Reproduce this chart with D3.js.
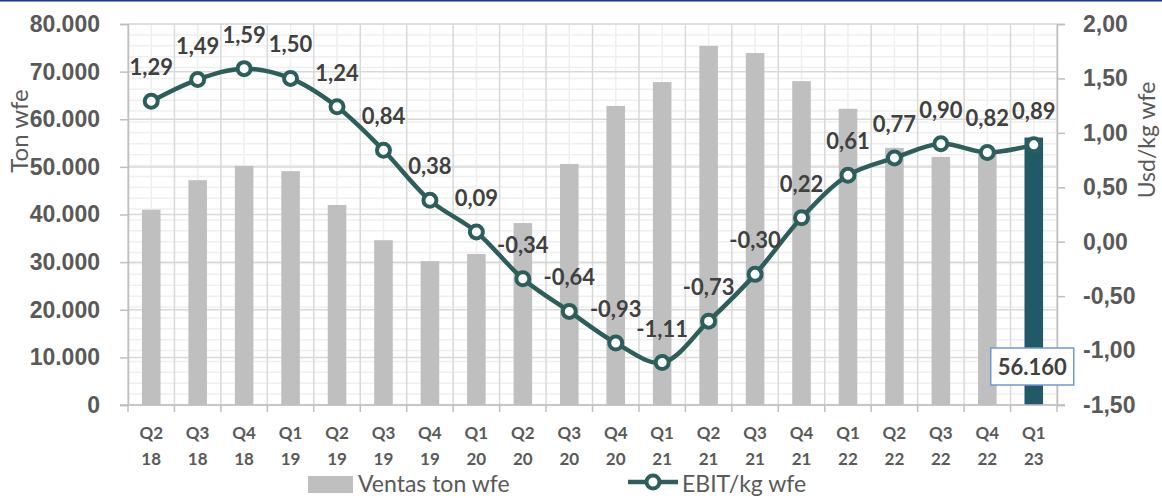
<!DOCTYPE html>
<html>
<head>
<meta charset="utf-8">
<script src="https://cdn.jsdelivr.net/npm/d3@7"></script>
<style>
  body { margin: 0; background: #fff; }
  svg { display: block; font-family: Lato, "Open Sans", sans-serif; }
</style>
</head>
<body>
<div id="chart"></div>
<script>
// quarterly sales (ton wfe) and EBIT per kg
const quarters = ["Q2", "Q3", "Q4", "Q1", "Q2", "Q3", "Q4", "Q1", "Q2", "Q3",
                  "Q4", "Q1", "Q2", "Q3", "Q4", "Q1", "Q2", "Q3", "Q4", "Q1"];
const years = ["18", "18", "18", "19", "19", "19", "19", "20", "20", "20",
               "20", "21", "21", "21", "21", "22", "22", "22", "22", "23"];
const ventas = [41000, 47200, 50200, 49100, 42000, 34600, 30200, 31700, 38200, 50600,
                62800, 67800, 75400, 73900, 68000, 62200, 54000, 52100, 52800, 56160];
const ebit = [1.29, 1.49, 1.59, 1.50, 1.24, 0.84, 0.38, 0.09, -0.34, -0.64,
              -0.93, -1.11, -0.73, -0.30, 0.22, 0.61, 0.77, 0.90, 0.82, 0.89];
const leftTicks = [0, 10000, 20000, 30000, 40000, 50000, 60000, 70000, 80000];
const rightTicks = [-1.5, -1, -0.5, 0, 0.5, 1, 1.5, 2];

const width = 1162, height = 498;
const plot = { left: 128, right: 1057, top: 24, bottom: 405 };

// spanish style numbers: dot for thousands, comma for decimals, plain hyphen
const es = d3.formatLocale({ decimal: ',', thousands: '.', grouping: [3], currency: ['', ''], minus: '-' });
const fmtL = es.format(',');
const fmtR = es.format('.2f');

const svg = d3.select('#chart').append('svg')
    .attr('width', width)
    .attr('height', height);

// thin blue rule on top of the slide
svg.append('rect')
    .attr('x', 0).attr('y', 0)
    .attr('width', width).attr('height', 1.5)
    .attr('fill', '#123c8c');

const idx = d3.range(quarters.length);
const x = d3.scaleBand()
    .domain(idx)
    .range([plot.left, plot.right])
    .paddingInner(0.6)
    .paddingOuter(0.3);
const step = x.step();
const cx = i => x(i) + x.bandwidth() / 2;

const yL = d3.scaleLinear().domain([0, 80000]).range([plot.bottom, plot.top]);
const yR = d3.scaleLinear().domain([-1.5, 2]).range([plot.bottom, plot.top]);

// gridlines
const grid = svg.append('g');
grid.selectAll('.minor-h')
    .data(d3.range(-15, 21).map(d => d / 10))
    .join('line')
    .attr('x1', plot.left).attr('x2', plot.right)
    .attr('y1', d => yR(d)).attr('y2', d => yR(d))
    .attr('stroke', '#efefef').attr('stroke-width', 1.5);
grid.selectAll('.minor-v')
    .data(idx)
    .join('line')
    .attr('x1', d => cx(d)).attr('x2', d => cx(d))
    .attr('y1', plot.top).attr('y2', plot.bottom)
    .attr('stroke', '#efefef').attr('stroke-width', 1.5);
grid.selectAll('.major-h')
    .data(leftTicks)
    .join('line')
    .attr('x1', plot.left).attr('x2', plot.right)
    .attr('y1', d => yL(d)).attr('y2', d => yL(d))
    .attr('stroke', '#d9d9d9').attr('stroke-width', 1.5);
grid.selectAll('.major-v')
    .data(d3.range(quarters.length + 1))
    .join('line')
    .attr('x1', d => plot.left + d * step).attr('x2', d => plot.left + d * step)
    .attr('y1', plot.top).attr('y2', plot.bottom)
    .attr('stroke', '#d9d9d9').attr('stroke-width', 1.5);

// bars
svg.append('g').selectAll('rect')
    .data(ventas)
    .join('rect')
    .attr('x', (d, i) => x(i))
    .attr('width', x.bandwidth())
    .attr('y', d => yL(d))
    .attr('height', d => yL(0) - yL(d))
    .attr('fill', (d, i) => i === ventas.length - 1 ? '#225966' : '#bfbfbf');

// axes
const axisColor = '#bfbfbf';
const leftAxis = svg.append('g')
    .attr('transform', `translate(${plot.left},0)`)
    .call(d3.axisLeft(yL).tickValues(leftTicks).tickFormat(fmtL).tickSize(8).tickPadding(20));
const rightAxis = svg.append('g')
    .attr('transform', `translate(${plot.right},0)`)
    .call(d3.axisRight(yR).tickValues(rightTicks).tickFormat(fmtR).tickSize(8).tickPadding(18));
[leftAxis, rightAxis].forEach(a => {
    a.select('.domain').attr('stroke', axisColor).attr('stroke-width', 1.5);
    a.selectAll('.tick line').attr('stroke', axisColor).attr('stroke-width', 1.5);
    a.selectAll('.tick text')
        .attr('fill', '#595959')
        .style('font-size', '23px')
        .style('font-weight', 700);
});

// bottom axis
const bottom = svg.append('g');
bottom.append('line')
    .attr('x1', plot.left - 8).attr('x2', plot.right + 8)
    .attr('y1', plot.bottom).attr('y2', plot.bottom)
    .attr('stroke', axisColor).attr('stroke-width', 1.5);
bottom.selectAll('.xtick')
    .data(d3.range(quarters.length + 1))
    .join('line')
    .attr('x1', d => plot.left + d * step).attr('x2', d => plot.left + d * step)
    .attr('y1', plot.bottom).attr('y2', plot.bottom + 7)
    .attr('stroke', axisColor).attr('stroke-width', 1.5);
const xl = bottom.selectAll('.xlabel')
    .data(idx)
    .join('text')
    .attr('text-anchor', 'middle')
    .attr('fill', '#595959')
    .style('font-size', '17px')
    .style('font-weight', 700);
xl.append('tspan').attr('x', d => cx(d)).attr('y', 439).text(d => quarters[d]);
xl.append('tspan').attr('x', d => cx(d)).attr('y', 465).text(d => years[d]);

// axis titles
svg.append('text')
    .attr('transform', 'translate(28,131) rotate(-90)')
    .attr('text-anchor', 'middle')
    .attr('fill', '#595959')
    .style('font-size', '24px')
    .text('Ton wfe');
svg.append('text')
    .attr('transform', 'translate(1155,140) rotate(-90)')
    .attr('text-anchor', 'middle')
    .attr('fill', '#595959')
    .style('font-size', '23px')
    .text('Usd/kg wfe');

// EBIT line
const lineColor = '#2c5f5b';
const line = d3.line()
    .x((d, i) => cx(i))
    .y(d => yR(d))
    .curve(d3.curveCatmullRom.alpha(0.5));
svg.append('path')
    .datum(ebit)
    .attr('d', line)
    .attr('fill', 'none')
    .attr('stroke', lineColor)
    .attr('stroke-width', 4.5);
svg.append('g').selectAll('circle')
    .data(ebit)
    .join('circle')
    .attr('cx', (d, i) => cx(i))
    .attr('cy', d => yR(d))
    .attr('r', 6.5)
    .attr('fill', '#fff')
    .attr('stroke', lineColor)
    .attr('stroke-width', 4);

// line labels
svg.append('g').selectAll('text')
    .data(ebit)
    .join('text')
    .attr('x', (d, i) => cx(i))
    .attr('y', d => yR(d) - 26)
    .attr('text-anchor', 'middle')
    .attr('fill', '#404040')
    .style('font-size', '22px')
    .style('font-weight', 700)
    .text(d => fmtR(d));

// label box for the last bar
const last = ventas.length - 1;
const box = svg.append('g')
    .attr('transform', `translate(${cx(last) - 43},348)`);
box.append('rect')
    .attr('width', 83).attr('height', 37)
    .attr('fill', '#fff')
    .attr('stroke', '#6f98d6')
    .attr('stroke-width', 1.5);
box.append('text')
    .attr('x', 41.5).attr('y', 27)
    .attr('text-anchor', 'middle')
    .attr('fill', '#404040')
    .style('font-size', '22px')
    .style('font-weight', 700)
    .text(fmtL(ventas[last]));

// legend
const legend = svg.append('g');
legend.append('rect')
    .attr('x', 308).attr('y', 476)
    .attr('width', 45).attr('height', 17)
    .attr('fill', '#bfbfbf');
legend.append('text')
    .attr('x', 358).attr('y', 492)
    .attr('fill', '#595959')
    .style('font-size', '23px')
    .text('Ventas ton wfe');
legend.append('line')
    .attr('x1', 628).attr('x2', 678)
    .attr('y1', 482).attr('y2', 482)
    .attr('stroke', lineColor).attr('stroke-width', 4.5);
legend.append('circle')
    .attr('cx', 653).attr('cy', 482).attr('r', 6.5)
    .attr('fill', '#fff')
    .attr('stroke', lineColor).attr('stroke-width', 4);
legend.append('text')
    .attr('x', 682).attr('y', 492)
    .attr('fill', '#595959')
    .style('font-size', '23px')
    .text('EBIT/kg wfe');
</script>
</body>
</html>
